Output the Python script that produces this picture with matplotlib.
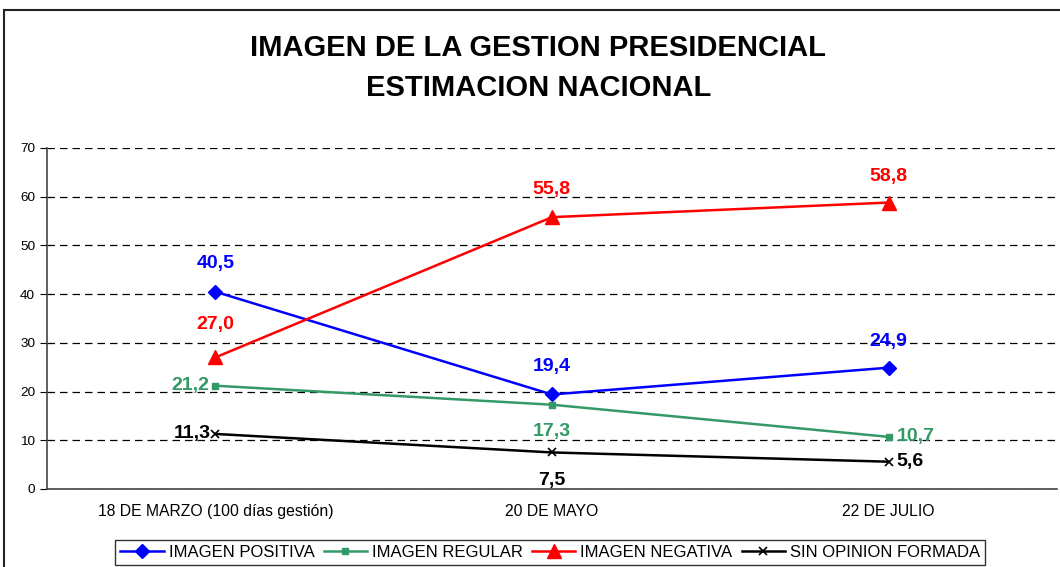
import matplotlib.pyplot as plt
from matplotlib.patches import Rectangle

plt.rcParams['font.family'] = ['Liberation Sans', 'DejaVu Sans']

# datos
fechas = ['18 DE MARZO (100 días gestión)', '20 DE MAYO', '22 DE JULIO']
positiva = [40.5, 19.4, 24.9]
regular = [21.2, 17.3, 10.7]
negativa = [27.0, 55.8, 58.8]
sin_opinion = [11.3, 7.5, 5.6]

fig = plt.figure(figsize=(10.6, 5.67), dpi=100)
ax = fig.add_axes([0.0443, 0.1376, 0.9527, 0.6014])

# marco de la figura
fig.patches.append(Rectangle((4 / 1060, -0.05), 1.1, 1 - 10 / 567 + 0.05,
                             transform=fig.transFigure, fill=False,
                             edgecolor='#222222', linewidth=1.5))

x = [0.5, 1.5, 2.5]
ax.plot(x, positiva, color='#0000FF', marker='D', markersize=7, linewidth=1.8,
        label='IMAGEN POSITIVA')
ax.plot(x, regular, color='#339966', marker='s', markersize=5, linewidth=1.8,
        label='IMAGEN REGULAR')
ax.plot(x, negativa, color='#FF0000', marker='^', markersize=10, linewidth=1.8,
        label='IMAGEN NEGATIVA')
ax.plot(x, sin_opinion, color='black', marker='x', markersize=6, linewidth=1.8,
        markeredgewidth=1.2, label='SIN OPINION FORMADA')

def etiqueta(xv, yv, color, dx, dy, ha='center'):
    ax.annotate(f'{yv:.1f}'.replace('.', ','), (xv, yv), xytext=(dx, dy),
                textcoords='offset points', ha=ha, va='center',
                color=color, fontsize=14, fontweight='bold')

etiqueta(x[0], positiva[0], '#0000FF', 0, 20)
etiqueta(x[1], positiva[1], '#0000FF', 0, 20)
etiqueta(x[2], positiva[2], '#0000FF', 0, 19)
etiqueta(x[0], regular[0], '#339966', -4, 0, 'right')
etiqueta(x[1], regular[1], '#339966', 0, -19)
etiqueta(x[2], regular[2], '#339966', 6, 0, 'left')
etiqueta(x[0], negativa[0], '#FF0000', 0, 24)
etiqueta(x[1], negativa[1], '#FF0000', 0, 20)
etiqueta(x[2], negativa[2], '#FF0000', 0, 19)
etiqueta(x[0], sin_opinion[0], 'black', -3, 0, 'right')
etiqueta(x[1], sin_opinion[1], 'black', 0, -20)
etiqueta(x[2], sin_opinion[2], 'black', 6, 0, 'left')

ax.set_xlim(0, 3)
ax.set_ylim(0, 70)
ax.set_yticks(range(0, 71, 10))
ax.set_xticks(x)
ax.set_xticklabels(fechas, fontsize=11.3)
ax.tick_params(axis='y', labelsize=9.7, length=5, direction='out')
ax.tick_params(axis='x', length=0, pad=11)
ax.yaxis.grid(True, linestyle=(0, (6, 4)), color='black', linewidth=0.9)
ax.set_axisbelow(True)
for s in ['top', 'right']:
    ax.spines[s].set_visible(False)
ax.spines['left'].set_color('#444444')
ax.spines['bottom'].set_color('#444444')
ax.spines['left'].set_linewidth(1.2)
ax.spines['bottom'].set_linewidth(1.2)

fig.text(0.508, 1 - 48 / 567, 'IMAGEN DE LA GESTION PRESIDENCIAL', ha='center',
         va='center', fontsize=21, fontweight='bold')
fig.text(0.508, 1 - 88 / 567, 'ESTIMACION NACIONAL', ha='center',
         va='center', fontsize=21, fontweight='bold')

leg = fig.legend(loc='upper center', bbox_to_anchor=(0.519, 1 - 540 / 567), ncol=4,
                 fontsize=12, frameon=True, fancybox=False, edgecolor='black',
                 handlelength=2.6, columnspacing=0.55, handletextpad=0.3,
                 borderpad=0.3, borderaxespad=0)
leg.get_frame().set_linewidth(1.0)

fig.savefig('out.png', dpi=100)
